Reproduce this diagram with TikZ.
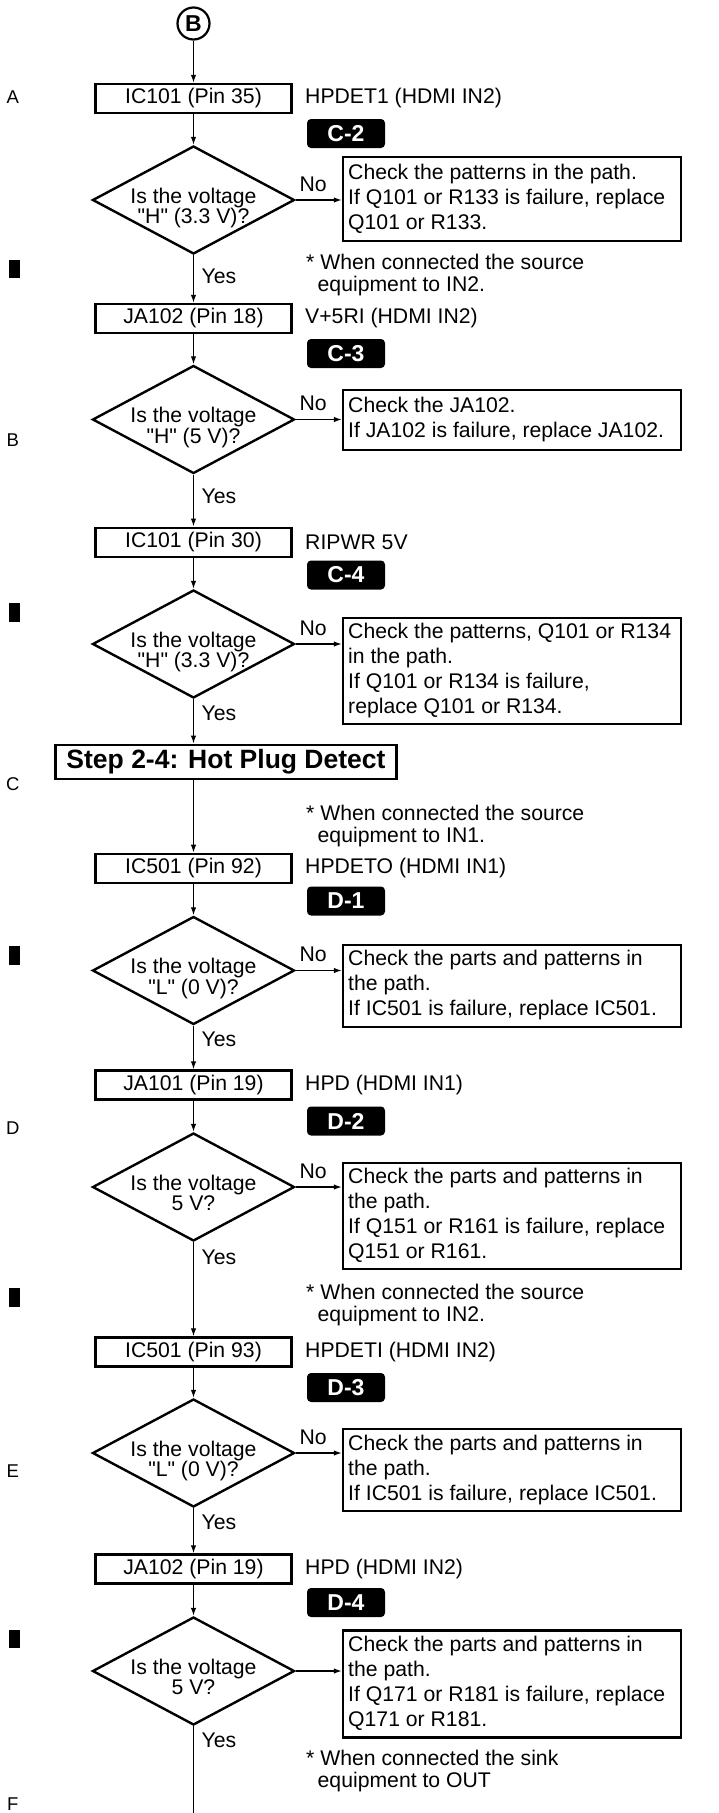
\documentclass[tikz,border=0pt]{standalone}
\usepackage{fontspec}
\setmainfont{Liberation Sans}[Ligatures=TeXOff]
\usetikzlibrary{arrows.meta,shapes.geometric,calc}
\newcommand\txtfont{\fontsize{21.2}{25}\selectfont}
\tikzset{
  pbox/.style={draw, line width=2.4pt, minimum width=196pt, minimum height=29pt, inner sep=0pt, font=\txtfont},
  dia/.style={draw, diamond, line width=2.4pt, minimum width=202pt, minimum height=108pt, inner sep=0pt},
  dtext/.style={align=center, inner sep=0pt, font=\fontsize{21.2}{20.3}\selectfont},
  rbox/.style={draw, line width=2.4pt, minimum width=338pt, inner sep=0pt},
  rtext/.style={align=left, anchor=west, inner sep=0pt, font=\txtfont},
  sig/.style={anchor=west, inner sep=0pt, font=\txtfont},
  badge/.style={fill=black, rounded corners=4pt, minimum width=78pt, minimum height=29pt, inner sep=0pt, text=white, font=\bfseries\fontsize{23}{23}\selectfont},
  note/.style={align=left, anchor=north west, inner sep=0pt, font=\fontsize{21.2}{22}\selectfont},
  lab/.style={inner sep=0pt, font=\txtfont},
  yeslab/.style={anchor=west, inner sep=0pt, font=\txtfont},
  arr/.style={line width=1.3pt, -{Latex[length=8pt,width=5.5pt]}},
  ln/.style={line width=1.3pt},
  margin/.style={inner sep=0pt, font=\fontsize{18.5}{18.5}\selectfont},
  circ/.style={circle, draw, line width=2.2pt, minimum size=32pt, inner sep=0pt, font=\bfseries\fontsize{23}{23}\selectfont},
  stepbox/.style={draw, line width=2.8pt, minimum width=341pt, minimum height=34pt, inner sep=0pt, font=\bfseries\fontsize{26.5}{26.5}\selectfont},
}
\begin{document}
\begin{tikzpicture}[x=1pt,y=-1pt]
\fill[white] (0,0) rectangle (718,1813);
\useasboundingbox (0,0) rectangle (718,1813);

% margin marks
\node[margin] (mA) at (12.8,97.3) {A};
\node[margin] (mB) at (12.8,440) {B};
\node[margin] (mC) at (12.8,784.5) {C};
\node[margin] (mD) at (12.8,1128.5) {D};
\node[margin] (mE) at (12.8,1471) {E};
\node[margin] (mF) at (12.8,1804) {F};
\fill (9,260) rectangle (20,278);
\fill (9,603) rectangle (20,622);
\fill (9,946) rectangle (20,965);
\fill (9,1288) rectangle (20,1307);
\fill (9,1630) rectangle (20,1648);

\node[circ] (B) at (193.5,23.5) {B};

% block 1
\node[pbox] (b1) at (193.5,98.5) {IC101 (Pin 35)};
\node[sig] (s1) at (305,98.5) {HPDET1 (HDMI IN2)};
\node[badge] (g1) at (346,133.5) {C-2};
\node[dia] (d1) at (193.5,200) {};
\node[dtext] (q1) at (193.5,208) {Is the voltage\\"H" (3.3 V)?};
\node[rbox, minimum height=84pt] (r1) at (512,199.2) {};
\node[rtext] (t1) at (348,198.7) {Check the patterns in the path.\\If Q101 or R133 is failure, replace\\Q101 or R133.};
\node[note] (n1) at (306,254) {* When connected the source\\\hspace*{11.5pt}equipment to IN2.};
\node[yeslab] (y1) at (201.5,276) {Yes};

% block 2
\node[pbox] (b2) at (193.5,318.5) {JA102 (Pin 18)};
\node[sig] (s2) at (305,318.5) {V+5RI (HDMI IN2)};
\node[badge] (g2) at (346,353.5) {C-3};
\node[dia] (d2) at (193.5,419.5) {};
\node[dtext] (q2) at (193.5,427.5) {Is the voltage\\"H" (5 V)?};
\node[rbox, minimum height=60pt] (r2) at (512,419.9) {};
\node[rtext] (t2) at (348,419.4) {Check the JA102.\\If JA102 is failure, replace JA102.};
\node[yeslab] (y2) at (201.5,496) {Yes};

% block 3
\node[pbox] (b3) at (193.5,542.2) {IC101 (Pin 30)};
\node[sig] (s3) at (305,542.2) {RIPWR 5V};
\node[badge] (g3) at (346,575) {C-4};
\node[dia] (d3) at (193.5,644) {};
\node[dtext] (q3) at (193.5,652) {Is the voltage\\"H" (3.3 V)?};
\node[rbox, minimum height=106pt] (r3) at (512,671.2) {};
\node[rtext] (t3) at (348,670.7) {Check the patterns, Q101 or R134\\in the path.\\If Q101 or R134 is failure,\\replace Q101 or R134.};
\node[yeslab] (y3) at (201.5,713) {Yes};

\node[stepbox] (st) at (226,762) {Step 2-4: Hot Plug Detect};
\node[note] (n3) at (306,804.5) {* When connected the source\\\hspace*{11.5pt}equipment to IN1.};

% block 4
\node[pbox] (b4) at (193.5,868.4) {IC501 (Pin 92)};
\node[sig] (s4) at (305,868.4) {HPDETO (HDMI IN1)};
\node[badge] (g4) at (346,901) {D-1};
\node[dia] (d4) at (193.5,970.5) {};
\node[dtext] (q4) at (193.5,978.5) {Is the voltage\\"L" (0 V)?};
\node[rbox, minimum height=82pt] (r4) at (512,985.8) {};
\node[rtext] (t4) at (348,985.3) {Check the parts and patterns in\\the path.\\If IC501 is failure, replace IC501.};
\node[yeslab] (y4) at (201.5,1039) {Yes};

% block 5
\node[pbox] (b5) at (193.5,1085) {JA101 (Pin 19)};
\node[sig] (s5) at (305,1085) {HPD (HDMI IN1)};
\node[badge] (g5) at (346,1121) {D-2};
\node[dia] (d5) at (193.5,1187) {};
\node[dtext] (q5) at (193.5,1193) {Is the voltage\\5 V?};
\node[rbox, minimum height=106pt] (r5) at (512,1216) {};
\node[rtext] (t5) at (348,1215.5) {Check the parts and patterns in\\the path.\\If Q151 or R161 is failure, replace\\Q151 or R161.};
\node[yeslab] (y5) at (201.5,1257) {Yes};
\node[note] (n5) at (306,1283.5) {* When connected the source\\\hspace*{11.5pt}equipment to IN2.};

% block 6
\node[pbox] (b6) at (193.5,1352) {IC501 (Pin 93)};
\node[sig] (s6) at (305,1352) {HPDETI (HDMI IN2)};
\node[badge] (g6) at (346,1387.5) {D-3};
\node[dia] (d6) at (193.5,1453) {};
\node[dtext] (q6) at (193.5,1461) {Is the voltage\\"L" (0 V)?};
\node[rbox, minimum height=82pt] (r6) at (512,1470) {};
\node[rtext] (t6) at (348,1469.5) {Check the parts and patterns in\\the path.\\If IC501 is failure, replace IC501.};
\node[yeslab] (y6) at (201.5,1522) {Yes};

% block 7
\node[pbox] (b7) at (193.5,1569) {JA102 (Pin 19)};
\node[sig] (s7) at (305,1569) {HPD (HDMI IN2)};
\node[badge] (g7) at (346,1602.5) {D-4};
\node[dia] (d7) at (193.5,1671) {};
\node[dtext] (q7) at (193.5,1677) {Is the voltage\\5 V?};
\node[rbox, minimum height=107pt] (r7) at (512,1684) {};
\node[rtext] (t7) at (348,1683.5) {Check the parts and patterns in\\the path.\\If Q171 or R181 is failure, replace\\Q171 or R181.};
\node[yeslab] (y7) at (201.5,1740) {Yes};
\node[note] (n7) at (306,1750) {* When connected the sink\\\hspace*{11.5pt}equipment to OUT};
\coordinate (endpt) at (193.5,1816);

% connectors
\draw[arr] (B.south) -- (b1.north);
\draw[arr] (b1.south) -- (d1.north);
\draw[arr] (d1.east) -- (d1.east -| r1.west) node[lab,pos=0.38,yshift=16pt] (no1) {No};
\draw[arr] (d1.south) -- (b2.north);
\draw[arr] (b2.south) -- (d2.north);
\draw[arr] (d2.east) -- (d2.east -| r2.west) node[lab,pos=0.38,yshift=16pt] (no2) {No};
\draw[arr] (d2.south) -- (b3.north);
\draw[arr] (b3.south) -- (d3.north);
\draw[arr] (d3.east) -- (d3.east -| r3.west) node[lab,pos=0.38,yshift=16pt] (no3) {No};
\draw[arr] (d3.south) -- (d3.south |- st.north);
\draw[arr] (b4.north |- st.south) -- (b4.north);
\draw[arr] (b4.south) -- (d4.north);
\draw[arr] (d4.east) -- (d4.east -| r4.west) node[lab,pos=0.38,yshift=16pt] (no4) {No};
\draw[arr] (d4.south) -- (b5.north);
\draw[arr] (b5.south) -- (d5.north);
\draw[arr] (d5.east) -- (d5.east -| r5.west) node[lab,pos=0.38,yshift=16pt] (no5) {No};
\draw[arr] (d5.south) -- (b6.north);
\draw[arr] (b6.south) -- (d6.north);
\draw[arr] (d6.east) -- (d6.east -| r6.west) node[lab,pos=0.38,yshift=16pt] (no6) {No};
\draw[arr] (d6.south) -- (b7.north);
\draw[arr] (b7.south) -- (d7.north);
\draw[arr] (d7.east) -- (d7.east -| r7.west);
\draw[ln] (d7.south) -- (endpt);
\end{tikzpicture}
\end{document}
